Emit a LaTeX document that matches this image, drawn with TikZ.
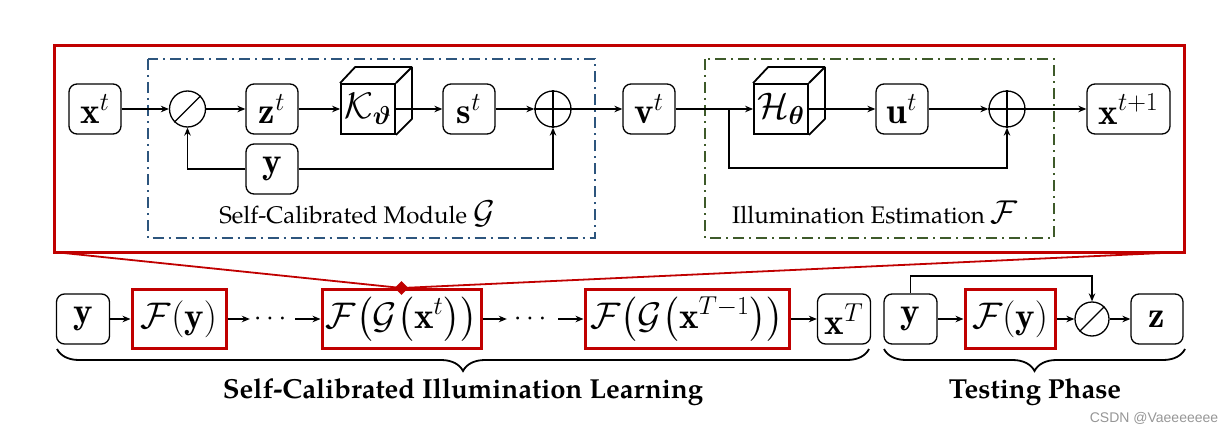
\RequirePackage{fix-cm}
\documentclass[tikz,border=0pt]{standalone}
\usepackage{amsmath,amssymb,bm}
\usepackage{fontspec}
\newfontfamily\pala{texgyrepagella}[Extension=.otf,UprightFont=*-regular,BoldFont=*-bold]
\newfontfamily\csdnfont{Liberation Sans}
\usetikzlibrary{arrows.meta,decorations.pathreplacing,calc,shapes.geometric}
\definecolor{myred}{RGB}{192,0,0}
\definecolor{myblue}{RGB}{45,85,125}
\definecolor{mygreen}{RGB}{62,90,42}
\definecolor{wmgray}{RGB}{150,150,150}
\begin{document}
\begin{tikzpicture}[x=1pt,y=-1pt,
  rbox/.style={draw, rounded corners=8pt, line width=1.3pt, minimum height=50pt, minimum width=52pt, inner sep=0pt, font=\fontsize{37}{40}\selectfont},
  redbox/.style={draw=myred, line width=3pt, minimum height=59pt, inner sep=0pt, font=\fontsize{37}{40}\selectfont},
  opnode/.style={circle, draw, line width=1.3pt, minimum size=36pt, inner sep=0pt},
  cubebox/.style={draw, line width=1.8pt, minimum width=54pt, minimum height=50pt, inner sep=0pt, font=\fontsize{37}{40}\selectfont},
  cubeedge/.style={line width=1.8pt, line join=round},
  arr/.style={-{Stealth[length=8pt,width=6.5pt]}, line width=1.3pt},
  ln/.style={line width=1.3pt},
  modbox/.style={line width=2pt, dash pattern=on 11pt off 5pt on 2pt off 5pt},
  dotsnode/.style={inner sep=0pt, font=\fontsize{28}{30}\selectfont},
  modlabel/.style={anchor=base, font=\pala\fontsize{24}{27}\selectfont},
  biglabel/.style={anchor=base, font=\pala\bfseries\fontsize{27.5}{31}\selectfont},
  bracestyle/.style={decorate, decoration={brace, mirror, amplitude=22pt}, line width=1.8pt}
]
\useasboundingbox (0,0) rectangle (1231,433);

% ---------- outer red frame ----------
\draw[myred, line width=3pt] (54,46) rectangle (1184,252);
\coordinate (rbl) at (54,252);
\coordinate (rbr) at (1184,252);

% ---------- module frames ----------
\draw[modbox, myblue] (147.5,59) rectangle (594.5,238);
\draw[modbox, mygreen] (705,59) rectangle (1054,238);

% ---------- top row ----------
\node[rbox] (xt) at (95,109) {$\mathbf{x}^t$};
\node[opnode] (os1) at (187.5,109) {};
\draw[ln] (os1.south west) -- (os1.north east);
\node[rbox] (zt) at (272,109) {$\mathbf{z}^t$};
\node[cubebox] (K) at (368,109) {$\mathcal{K}_{\bm{\vartheta}}$};
\draw[cubeedge] (K.north west) -- ($(K.north west)+(15,-16)$) -- ($(K.north east)+(16,-16)$) -- ($(K.south east)+(16,-16)$) -- (K.south east);
\draw[cubeedge] (K.north east) -- ($(K.north east)+(16,-16)$);
\node[rbox] (st) at (469,109) {$\mathbf{s}^t$};
\node[opnode] (op1) at (553,109) {};
\draw[ln] (op1.north) -- (op1.south) (op1.west) -- (op1.east);
\node[rbox] (y1) at (272,169) {$\mathbf{y}$};
\node[rbox] (vt) at (649,109) {$\mathbf{v}^t$};
\node[cubebox] (H) at (781,109) {$\mathcal{H}_{\bm{\theta}}$};
\draw[cubeedge] (H.north west) -- ($(H.north west)+(15,-16)$) -- ($(H.north east)+(16,-16)$) -- ($(H.south east)+(16,-16)$) -- (H.south east);
\draw[cubeedge] (H.north east) -- ($(H.north east)+(16,-16)$);
\node[rbox] (ut) at (902,109) {$\mathbf{u}^t$};
\node[opnode] (op2) at (1007,109) {};
\draw[ln] (op2.north) -- (op2.south) (op2.west) -- (op2.east);
\node[rbox, minimum width=83pt] (xt1) at (1128.5,109) {$\mathbf{x}^{t+1}$};

\draw[arr] (xt) -- (os1);
\draw[arr] (os1) -- (zt);
\draw[arr] (zt) -- (K);
\draw[arr] (K) -- (st);
\draw[arr] (st) -- (op1);
\draw[arr] (op1) -- (vt);
\draw[arr] (y1.west) -| (os1.south);
\draw[arr] (y1.east) -| (op1.south);
\draw[arr] (vt) -- (H);
\coordinate (split) at (729,109);
\coordinate (loopl) at (729,168);
\draw[arr] (split) -- (loopl) -| (op2.south);
\draw[arr] (H) -- (ut);
\draw[arr] (ut) -- (op2);
\draw[arr] (op2) -- (xt1);

\node[modlabel] (lab1) at (357,223) {Self-Calibrated Module {\fontsize{33}{35}\selectfont$\mathcal{G}$}};
\node[modlabel] (lab2) at (875,223) {Illumination Estimation {\fontsize{33}{35}\selectfont$\mathcal{F}$}};

% ---------- bottom row ----------
\node[rbox, minimum width=53pt] (by) at (83,319) {$\mathbf{y}$};
\node[redbox, minimum width=94pt] (Fy) at (179,319) {$\mathcal{F}(\mathbf{y})$};
\node[dotsnode, minimum width=45pt] (d1) at (272.5,319) {$\cdots$};
\node[redbox, minimum width=159pt] (FG) at (401.5,319) {$\mathcal{F}\bigl(\mathcal{G}\bigl(\mathbf{x}^t\bigr)\bigr)$};
\node[dotsnode, minimum width=51pt] (d2) at (532.5,319) {$\cdots$};
\node[redbox, minimum width=204pt] (FGT) at (687,319) {$\mathcal{F}\bigl(\mathcal{G}\bigl(\mathbf{x}^{T-1}\bigr)\bigr)$};
\node[rbox, minimum width=53pt] (xT) at (844,319) {$\mathbf{x}^T$};

\draw[arr] (by) -- (Fy);
\draw[arr] (Fy) -- (d1);
\draw[arr] (d1) -- (FG);
\draw[arr] (FG) -- (d2);
\draw[arr] (d2) -- (FGT);
\draw[arr] (FGT) -- (xT);

\node[diamond, fill=myred, minimum size=14pt, inner sep=0pt] (dm) at (FG.north) {};
\draw[myred, line width=1.8pt] (rbl) -- (dm.center) -- (rbr);

% testing phase
\node[rbox, minimum width=53pt] (ty) at (910.5,319) {$\mathbf{y}$};
\node[redbox, minimum width=90pt] (tF) at (1010,319) {$\mathcal{F}(\mathbf{y})$};
\node[opnode, minimum size=34pt] (os2) at (1092,319) {};
\draw[ln] (os2.south west) -- (os2.north east);
\node[rbox] (tz) at (1157,319) {$\mathbf{z}$};
\draw[arr] (ty) -- (tF);
\draw[arr] (tF) -- (os2);
\draw[arr] (os2) -- (tz);
\coordinate (tl) at (1092,276);
\draw[arr] (ty.north) |- (tl) -- (os2.north);

% braces
\coordinate (b1l) at (57,349);
\coordinate (b1r) at (869,349);
\coordinate (b2l) at (884,349);
\coordinate (b2r) at (1185,349);
\draw[bracestyle] (b1l) -- (b1r);
\draw[bracestyle] (b2l) -- (b2r);
\node[biglabel] (lab3) at (463,398) {Self-Calibrated Illumination Learning};
\node[biglabel] (lab4) at (1035,398) {Testing Phase};

\node[anchor=base, font=\csdnfont\fontsize{14}{16}\selectfont, text=wmgray] (wm) at (1154,422) {CSDN @Vaeeeeeee};
\end{tikzpicture}
\end{document}
